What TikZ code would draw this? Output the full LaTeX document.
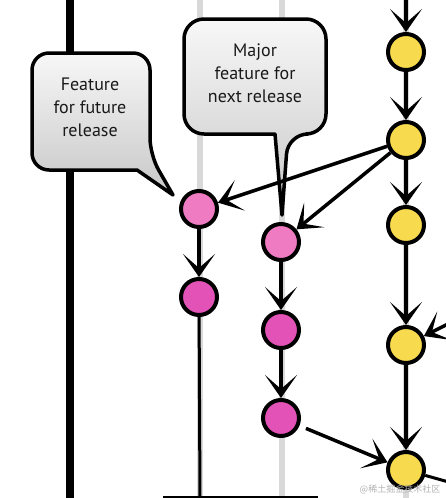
\documentclass[tikz,border=0pt]{standalone}
\usepackage{fontspec}
\setmainfont{PT Sans}
\newfontfamily\cjkfont{Noto Sans CJK SC}
\usetikzlibrary{arrows.meta}
\definecolor{ycol}{HTML}{F8DA4E}
\definecolor{plight}{HTML}{EF7CC2}
\definecolor{pdark}{HTML}{E352B6}
\begin{document}
\begin{tikzpicture}[x=1pt,y=-1pt,
  commit/.style={circle, draw=black, line width=4pt, minimum size=36pt, inner sep=0pt},
  yc/.style={commit, fill=ycol},
  pl/.style={commit, fill=plight},
  pd/.style={commit, fill=pdark},
  lane/.style={line width=6pt, draw=black!15},
  flow/.style={line width=3.5pt, -{Stealth[length=23pt,width=32pt,inset=14pt]}},
  bubble/.style={line width=3.5pt, draw=black, top color=black!3, bottom color=black!22, line join=round},
  btext/.style={align=center, font=\fontsize{18}{23}\selectfont, text=black!90}
]
\useasboundingbox (0,0) rectangle (446,498);
\clip (0,0) rectangle (446,498);
% lanes
\draw[lane] (200,-2) -- (200,500);
\draw[lane] (282,-2) -- (282,500);
\draw[lane] (406,-2) -- (406,500);
\draw[line width=8pt] (70,-2) -- (70,500);
\draw[line width=2.5pt] (163,497) -- (318,497);
% bubble 1
\path[bubble] (32,110) [rounded corners=17pt] -- (32,53) -- (150,53) -- (150,155) [sharp corners] -- (173,195) -- (137,170) [rounded corners=17pt] -- (32,170) -- cycle;
\node[btext] (t1) at (90,107) {Feature\\for future\\release};
% bubble 2
\path[bubble] (184,75) [rounded corners=20pt] -- (184,19) -- (326,19) -- (326,134) -- (288,134) [sharp corners] -- (282,215) -- (275,134) [rounded corners=20pt] -- (184,134) -- cycle;
\node[btext] (t2) at (255,73) {Major\\feature for\\next release};
% commits
\node[yc] (Y1) at (406,52) {};
\node[yc] (Y2) at (406,140) {};
\node[yc] (Y3) at (406,225) {};
\node[yc] (Y4) at (406,345) {};
\node[yc] (Y5) at (406,470) {};
\node[pl] (P1) at (199,209) {};
\node[pd] (P2) at (199,297) {};
\node[pl] (P3) at (281,242) {};
\node[pd] (P4) at (281,330) {};
\node[pd] (P5) at (281,418) {};
% free ends
\coordinate (ytop) at (406,-4);
\coordinate (pend) at (200,502);
\coordinate (rin) at (472,312);
\coordinate (rout) at (470,488);
% connectors
\draw[line width=3pt] (P2) -- (pend);
\draw[flow] (ytop) -- (Y1);
\draw[flow] (Y1) -- (Y2);
\draw[flow] (Y2) -- (Y3);
\draw[flow] (Y3) -- (Y4);
\draw[flow] (Y4) -- (Y5);
\draw[flow] (Y2) -- (P1);
\draw[flow] (Y2) -- (P3);
\draw[flow] (P1) -- (P2);
\draw[flow] (P3) -- (P4);
\draw[flow] (P4) -- (P5);
\draw[flow, shorten <=7pt] (P5) -- (Y5);
\draw[flow] (rin) -- (Y4);
\draw[line width=3pt] (Y5) -- (rout);
% watermark
\node[text=black!30, font=\cjkfont\fontsize{9}{9}\selectfont] (wm) at (400,489) {@稀土掘金技术社区};
\end{tikzpicture}
\end{document}
